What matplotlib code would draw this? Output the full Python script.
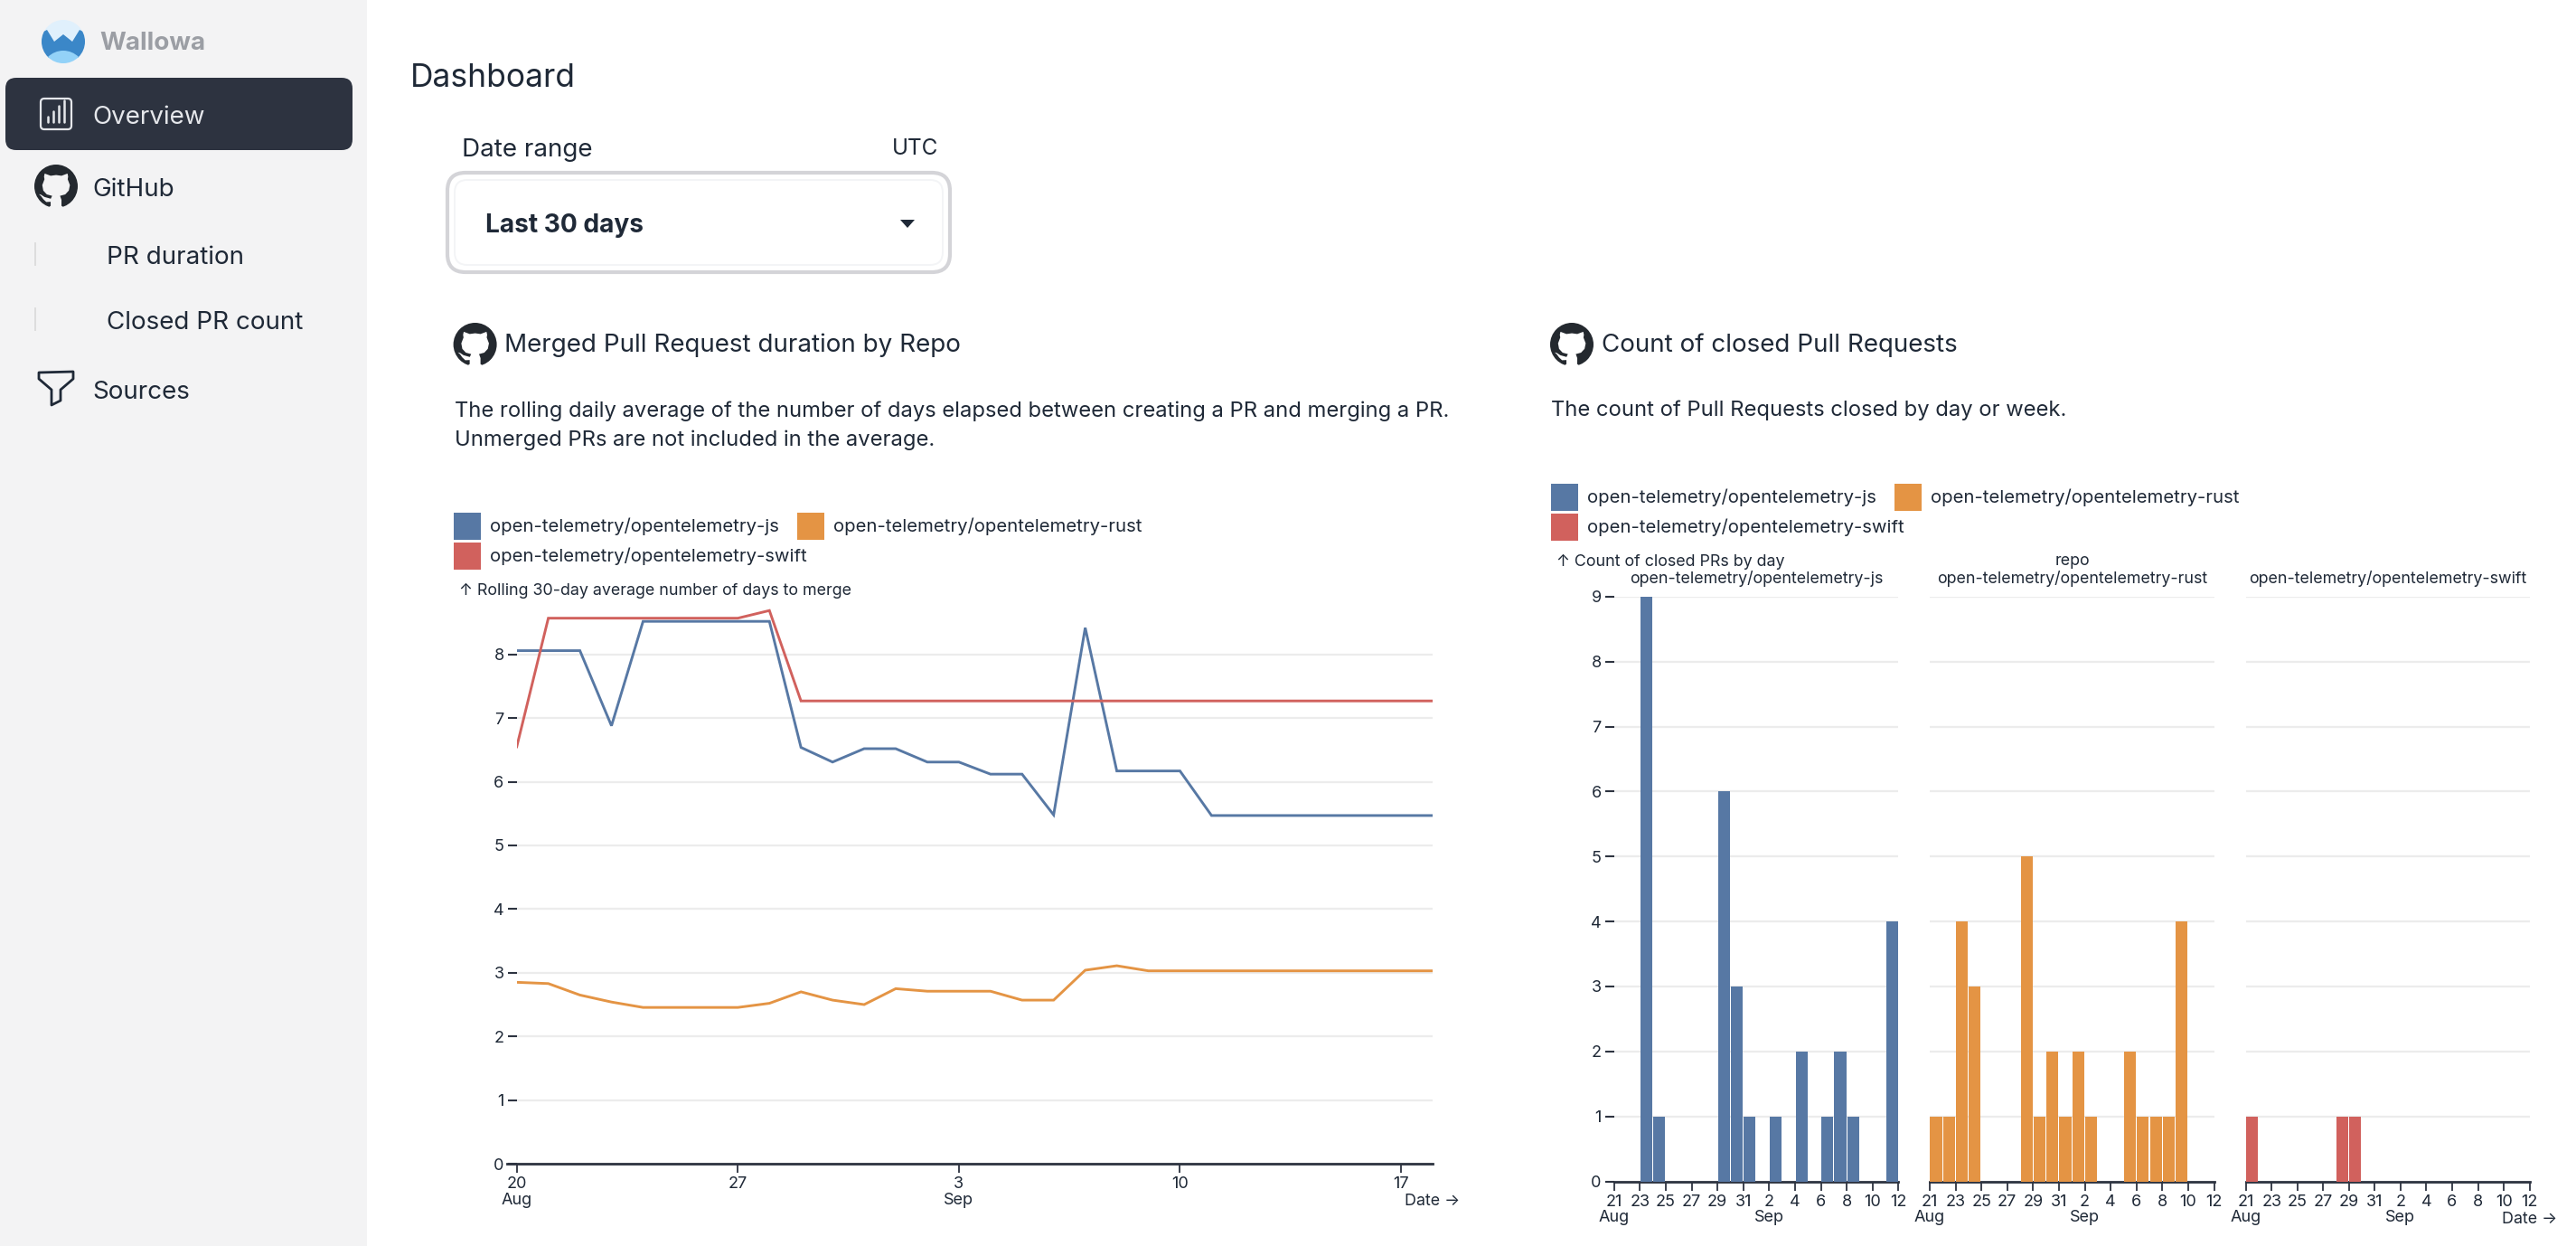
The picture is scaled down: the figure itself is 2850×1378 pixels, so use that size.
"""
Wallowa dashboard - PR duration lines and closed PR count bars
"""
import matplotlib
matplotlib.use("Agg")
import matplotlib.pyplot as plt
import matplotlib.dates as mdates
from matplotlib.patches import Circle, FancyBboxPatch, Polygon, Rectangle
import pandas as pd

plt.rcParams['font.family'] = ['Inter', 'DejaVu Sans']

W, H = 2850, 1378
BLUE = "#5778a4"
ORANGE = "#e49444"
RED = "#d1615d"
INK = "#1f2937"
AXIS_INK = "#2d3340"
GRID = "#ececec"
SIDEBAR = "#f3f3f4"

REPOS = ["open-telemetry/opentelemetry-js",
         "open-telemetry/opentelemetry-rust",
         "open-telemetry/opentelemetry-swift"]

# Rolling average, one value a day from Aug 20
line_start = "2023-08-20"
duration_js = [8.06, 8.06, 8.06, 6.88, 8.52, 8.52, 8.52, 8.52, 8.52, 6.54,
               6.31, 6.52, 6.52, 6.31, 6.31, 6.12, 6.12, 5.48, 8.42, 6.17,
               6.17, 6.17, 5.47, 5.47, 5.47, 5.47, 5.47, 5.47, 5.47, 5.47]
duration_rust = [2.85, 2.83, 2.65, 2.54, 2.455, 2.455, 2.455, 2.455, 2.52, 2.70,
                 2.57, 2.50, 2.75, 2.71, 2.71, 2.71, 2.57, 2.57, 3.04, 3.11,
                 3.03, 3.03, 3.03, 3.03, 3.03, 3.03, 3.03, 3.03, 3.03, 3.03]
duration_swift = [6.55, 8.57, 8.57, 8.57, 8.57, 8.57, 8.57, 8.57, 8.69, 7.27,
                  7.27, 7.27, 7.27, 7.27, 7.27, 7.27, 7.27, 7.27, 7.27, 7.27,
                  7.27, 7.27, 7.27, 7.27, 7.27, 7.27, 7.27, 7.27, 7.27, 7.27]

# Closed PRs, only the days that have any
closed_js_days = ["08-23", "08-24", "08-29", "08-30", "08-31", "09-02",
                  "09-04", "09-06", "09-07", "09-08", "09-11"]
closed_js = [9, 1, 6, 3, 1, 1, 2, 1, 2, 1, 4]
closed_rust_days = ["08-21", "08-22", "08-23", "08-24", "08-28", "08-29", "08-30",
                    "08-31", "09-01", "09-02", "09-05", "09-06", "09-07", "09-08",
                    "09-09"]
closed_rust = [1, 1, 4, 3, 5, 1, 2, 1, 2, 1, 2, 1, 1, 1, 4]
closed_swift_days = ["08-21", "08-28", "08-29"]
closed_swift = [1, 1, 1]

line_ticks = ["08-20", "08-27", "09-03", "09-10", "09-17"]
line_tick_labels = ["20\nAug", "27", "3\nSep", "10", "17"]
bar_ticks = ["08-21", "08-23", "08-25", "08-27", "08-29", "08-31",
             "09-02", "09-04", "09-06", "09-08", "09-10", "09-12"]
bar_tick_labels = ["21\nAug", "23", "25", "27", "29", "31", "2\nSep", "4", "6", "8", "10", "12"]

TICK_PT = 13
NAV_PT = 20
LEGEND_PT = 14.6
BODY_PT = 17.1
TITLE_PT = 20
SMALL_PT = 12.85


def to_date(day):
    return pd.Timestamp("2023-" + day)


def add_axes_px(left, right, top, bottom):
    return fig.add_axes([left / W, 1 - bottom / H, (right - left) / W, (bottom - top) / H])


def style_axes(ax, show_y):
    ax.patch.set_visible(False)
    for s in ["top", "left", "right"]:
        ax.spines[s].set_visible(False)
    ax.spines["bottom"].set_color(AXIS_INK)
    ax.spines["bottom"].set_linewidth(2.0)
    ax.grid(axis="y", color=GRID, lw=1.6)
    ax.set_axisbelow(True)
    ax.tick_params(axis="x", length=7.2, width=1.3, color=AXIS_INK, labelsize=TICK_PT,
                   labelcolor=INK, pad=3)
    ax.tick_params(axis="y", length=7.2 if show_y else 0, width=1.5, color=AXIS_INK,
                   labelsize=TICK_PT, labelcolor=INK, pad=3, labelleft=show_y)
    for lab in ax.get_xticklabels():
        lab.set_linespacing(1.05)


def github_mark(cx, cy, r=24, bg=None):
    # dark ring with the cat cut out, traced in a 16 unit box
    s = r / 8
    bgax.add_patch(Circle((cx, cy), r, color="#24292f", lw=0))
    cat = [(5.47, 16.4), (5.47, 15.59), (6.02, 15.21), (6.01, 13.72), (4.4, 13.8), (3.32, 12.78),
           (2.5, 11.65), (1.67, 10.9), (2.49, 11.12), (3.72, 11.94), (6.05, 12.6),
           (6.56, 11.53), (4.6, 11.0), (3.3, 9.6), (2.92, 7.58), (3.74, 5.43),
           (3.58, 4.4), (3.82, 3.31), (6.02, 4.13), (8.02, 3.86), (10.02, 4.13),
           (12.22, 3.31), (12.46, 4.4), (12.3, 5.43), (13.12, 7.58), (12.7, 9.6),
           (11.4, 11.0), (9.47, 11.53), (10.01, 13.01), (10.0, 15.21), (10.55, 15.59),
           (10.55, 16.4)]
    pts = [(cx + (x - 8) * s, cy + (y - 8) * s) for x, y in cat]
    bgax.add_patch(Polygon(pts, closed=True, color=bg, lw=0))


def label(x, y, s, size=NAV_PT, color=INK, weight="normal", ha="left"):
    # va center sits a little high for Inter, nudge down with the size
    bgax.text(x, y + size * 0.15, s, fontsize=size, color=color, fontweight=weight, ha=ha, va="center")


def legend_row(x0, y0, x_rust):
    swatches = [(x0, y0, BLUE, REPOS[0]), (x_rust, y0, ORANGE, REPOS[1]), (x0, y0 + 33, RED, REPOS[2])]
    for x, y, c, name in swatches:
        bgax.add_patch(Rectangle((x, y), 30, 30, color=c, lw=0))
        label(x + 40, y + 13, name, size=LEGEND_PT)


fig = plt.figure(figsize=(W / 100, H / 100), dpi=100, facecolor="white")

# page furniture drawn in pixel coordinates on one full size axes
bgax = fig.add_axes([0, 0, 1, 1])
bgax.set_xlim(0, W)
bgax.set_ylim(H, 0)
bgax.axis("off")

# Sidebar
bgax.add_patch(Rectangle((0, 0), 406, H, color=SIDEBAR, lw=0))
logo = Circle((70, 46), 24, color="#e0f0fc", lw=0)
bgax.add_patch(logo)
band = Polygon([(46, 36), (46, 64), (94, 64), (94, 36), (88, 33), (80, 46), (70, 38), (60, 46), (52, 33)],
               closed=True, color="#3b87c8", lw=0)
bgax.add_patch(band)
band.set_clip_path(logo)
low = Circle((70, 80), 24, color="#93d2f8", lw=0)
bgax.add_patch(low)
low.set_clip_path(logo)
label(110, 45, "Wallowa", size=20, color="#9b9ea4", weight="bold")

bgax.add_patch(FancyBboxPatch((6 + 12, 86 + 12), 384 - 24, 80 - 24,
                              boxstyle="round,pad=12,rounding_size=12", color="#2d3340", lw=0))
bgax.add_patch(FancyBboxPatch((47, 111), 30, 30, boxstyle="round,pad=2,rounding_size=4",
                              fc="none", ec="#e5e7eb", lw=1.6))
for bx, bh in zip([53, 59, 65, 71], [6, 12, 18, 24]):
    bgax.plot([bx, bx], [135, 135 - bh], color="#e5e7eb", lw=1.8, solid_capstyle="round")
label(102, 127, "Overview", color="#e5e7eb")
github_mark(62, 206, bg=SIDEBAR)
label(102, 207, "GitHub")
bgax.plot([39, 39], [269, 293], color="#dddddd", lw=1.4)
label(118, 282, "PR duration")
bgax.plot([39, 39], [341, 365], color="#dddddd", lw=1.4)
label(118, 354, "Closed PR count")
bgax.add_patch(Polygon([(43, 412), (81, 411), (81, 419), (67, 431), (67, 443), (57, 448), (57, 431), (43, 419)],
                       closed=True, fc="none", ec=INK, lw=2.0, joinstyle="round"))
label(102, 431, "Sources")

# Header and date picker
label(454, 83, "Dashboard", size=25.5)
label(511, 163, "Date range", size=20)
label(1038, 162, "UTC", size=17.5, ha="right")
bgax.add_patch(FancyBboxPatch((495 + 20, 191 + 20), 556 - 40, 110 - 40,
                              boxstyle="round,pad=20,rounding_size=20", fc="white", ec="#d4d4d8", lw=3))
bgax.add_patch(FancyBboxPatch((503 + 14, 199 + 14), 540 - 28, 94 - 28,
                              boxstyle="round,pad=14,rounding_size=14", fc="white", ec="#f3f4f6", lw=1.4))
label(537, 246, "Last 30 days", size=20.2, weight="bold")
bgax.add_patch(Polygon([(996, 243), (1012, 243), (1004, 252)], closed=True, color=INK, lw=0))

# Card headings
github_mark(525.6, 381, bg="white")
label(558, 379, "Merged Pull Request duration by Repo", size=TITLE_PT)
label(503, 452, "The rolling daily average of the number of days elapsed between creating a PR and merging a PR.", size=BODY_PT)
label(503, 484, "Unmerged PRs are not included in the average.", size=BODY_PT)
github_mark(1739, 381, bg="white")
label(1772, 379, "Count of closed Pull Requests", size=TITLE_PT)
label(1716, 451, "The count of Pull Requests closed by day or week.", size=BODY_PT)

legend_row(502, 567, 881.6)
legend_row(1716, 535, 2096)
label(508, 651, "↑ Rolling 30-day average number of days to merge", size=SMALL_PT)
label(1722, 619, "↑ Count of closed PRs by day", size=SMALL_PT)
label(2292.6, 619, "repo", size=SMALL_PT, ha="center")
label(1554, 1327, "Date →", size=SMALL_PT)
label(2768, 1347, "Date →", size=SMALL_PT)

# Rolling average line chart
dates = pd.date_range(line_start, periods=len(duration_js))
line_y_max = 8.8
ax1 = add_axes_px(571.7, 1585, 1287 - 70.4 * line_y_max, 1287)
ax1.plot(dates, duration_js, color=BLUE, lw=2.1, solid_joinstyle="miter", zorder=3)
ax1.plot(dates, duration_rust, color=ORANGE, lw=2.1, solid_joinstyle="miter", zorder=3)
ax1.plot(dates, duration_swift, color=RED, lw=2.1, solid_joinstyle="miter", zorder=3)
ax1.set_xlim(dates[0], dates[-1])
ax1.set_ylim(0, line_y_max)
ax1.set_yticks(range(9))
ax1.set_xticks([to_date(d) for d in line_ticks])
ax1.set_xticklabels(line_tick_labels)
style_axes(ax1, True)
ax1.spines["bottom"].set_bounds(mdates.date2num(dates[0]) - 0.3, mdates.date2num(dates[-1]))

# Small multiple bar charts, one per repo
panels = [(1785.8, 2100.4, closed_js_days, closed_js, BLUE),
          (2134.9, 2449.5, closed_rust_days, closed_rust, ORANGE),
          (2484.7, 2798.6, closed_swift_days, closed_swift, RED)]
bar_tick_days = [to_date(d) for d in bar_ticks]
for i, (left, right, days, counts, color) in enumerate(panels):
    ax = add_axes_px(left, right, 1306.5 - 71.85 * 9, 1306.5)
    day_x = [to_date(d) + pd.Timedelta(hours=1) for d in days]
    ax.bar(day_x, counts, width=0.91, align="edge", color=color, zorder=3)
    ax.set_xlim(to_date("08-21"), to_date("09-12"))
    ax.set_ylim(0, 9)
    ax.set_yticks(range(10))
    ax.set_xticks(bar_tick_days)
    ax.set_xticklabels(bar_tick_labels)
    style_axes(ax, i == 0)
    label((left + right) / 2, 638, REPOS[i], size=SMALL_PT, ha="center")

plt.savefig("out.png", dpi=100)
